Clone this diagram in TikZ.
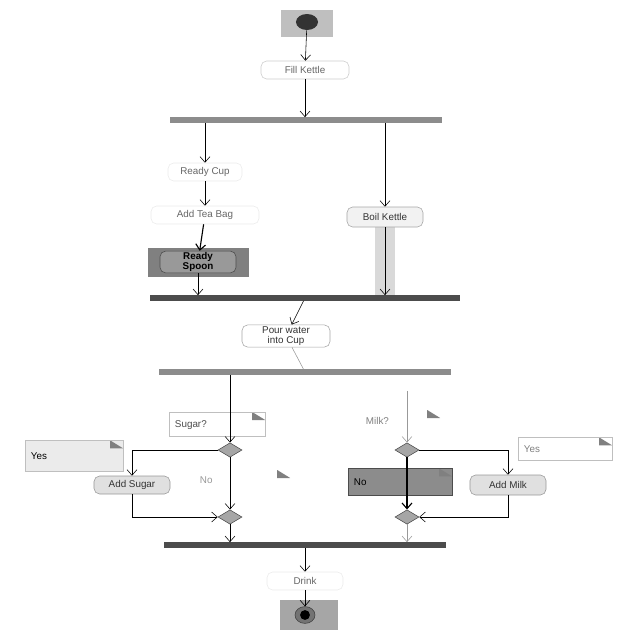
\documentclass[tikz,border=0pt]{standalone}
\usepackage{fontspec}
\setmainfont{Liberation Sans}
\usetikzlibrary{shapes.geometric,arrows.meta}
\begin{document}
\begin{tikzpicture}[x=0.025cm,y=-0.025cm,
  act/.style={draw=black!20,rounded corners=4pt,fill=white,minimum height=0.45cm,
    inner sep=1pt,align=center,text=black!60,font=\fontsize{7}{7.5}\selectfont},
  bar/.style={fill=black!45,minimum height=0.13cm,inner sep=0pt},
  choice/.style={diamond,draw=black!70,fill=black!35,minimum width=0.6cm,
    minimum height=0.36cm,inner sep=0pt},
  note/.style={draw=black!25,fill=white,inner sep=3pt,text=black!70,
    font=\fontsize{7}{7.5}\selectfont,text depth=0pt,
    path picture={\fill[black!50] ([xshift=-0.32cm]path picture bounding box.north east)
      -- ++(0,8) -- ++(13,0) -- cycle;}},
  >={Straight Barb[length=4pt,width=7pt]}]
  \useasboundingbox (0,0) rectangle (640,640);
  % shaded patches
  \fill[black!25] (281,10) rectangle (333,37);
  \fill[black!50] (148,248) rectangle (249,277);
  \fill[black!15] (375,227) rectangle (395,295);
  \fill[black!35] (280,600) rectangle (338,630);
  % notes
  \node[note,minimum width=2.4cm,minimum height=0.6cm,text width=2.1cm] (qs) at (217,424) {Sugar?};
  \node[note,minimum width=2.45cm,minimum height=0.78cm,text width=2.15cm,fill=black!8,text=black] (ys) at (74,456) {Yes};
  \node[note,minimum width=2.4cm,minimum height=0.5cm,text width=2.1cm,draw=none,text=black!40] (ns) at (242,480) {No};
  \node[note,minimum width=2cm,minimum height=0.55cm,text width=1.7cm,draw=none,text=black!50] (qm) at (400,421) {Milk?};
  \node[note,minimum width=2.35cm,minimum height=0.58cm,text width=2.05cm,text=black!50] (ym) at (565,449) {Yes};
  \node[note,minimum width=2.6cm,minimum height=0.68cm,text width=2.3cm,fill=black!45,draw=black!70,text=black] (nm) at (400,482) {No};
  % nodes
  \node[ellipse,fill=black!80,minimum width=0.55cm,minimum height=0.4cm,inner sep=0pt] (start) at (307,22) {};
  \node[act,minimum width=2.2cm] (fill) at (305,70) {Fill Kettle};
  \node[bar,minimum width=6.8cm] (fork1) at (306,120) {};
  \node[act,minimum width=1.85cm,draw=black!8] (cup) at (205,172) {Ready Cup};
  \node[act,minimum width=2.7cm,draw=black!8] (tea) at (205,215) {Add Tea Bag};
  \node[act,minimum width=1.9cm,minimum height=0.5cm,fill=black!40,draw=black!70,text=black,
    font=\fontsize{7}{7}\selectfont\bfseries] (spoon) at (198,262) {Ready\\Spoon};
  \node[act,minimum width=1.9cm,minimum height=0.5cm,fill=black!5,draw=black!35,text=black!80] (boil) at (385,217) {Boil Kettle};
  \node[bar,minimum width=7.75cm,fill=black!70] (join1) at (305,298) {};
  \node[act,minimum width=2.2cm,minimum height=0.53cm,draw=black!35,text=black!80] (pour) at (286,336) {Pour water\\into Cup};
  \node[bar,minimum width=7.3cm] (fork2) at (305,372) {};
  \node[choice] (d1) at (230,450) {};
  \node[act,minimum width=1.9cm,fill=black!12,draw=black!40,text=black!80] (sugar) at (132,485) {Add Sugar};
  \node[choice] (d2) at (230,517) {};
  \node[choice] (d3) at (407,450) {};
  \node[act,minimum width=1.9cm,minimum height=0.5cm,fill=black!12,draw=black!40,text=black!80] (milk) at (508,485) {Add Milk};
  \node[choice] (d4) at (407,517) {};
  \node[bar,minimum width=7.05cm,fill=black!70] (join2) at (305,545) {};
  \node[act,minimum width=1.9cm,draw=black!8] (drink) at (305,581) {Drink};
  \node[ellipse,fill=black!55,draw=black!75,minimum width=0.5cm,minimum height=0.42cm,inner sep=0pt] (stop) at (305,615) {};
  \fill[black] (stop) circle (3.5pt);
  % flows
  \draw[->] (start) -- (fill);
  \draw[->] (fill) -- (fill |- fork1.north);
  \draw[->] (fork1.south -| cup) -- (cup);
  \draw[->] (fork1.south -| boil) -- (boil);
  \draw[->] (cup) -- (tea);
  \draw[->,thick] (tea) -- (spoon);
  \draw[->] (spoon) -- (spoon |- join1.north);
  \draw[->] (boil) -- (boil |- join1.north);
  \draw[->] (join1) -- (pour);
  \draw[black!40] (pour) -- (fork2);
  \draw[->] (fork2.south -| d1) -- (d1);
  \draw[->] (d1.west) -| (sugar);
  \draw[->] (sugar) |- (d2.west);
  \draw[->] (d1) -- (d2);
  \draw[->] (d2) -- (d2 |- join2.north);
  \draw[->,black!40] ([yshift=-0.4cm]fork2.south -| d3) -- (d3);
  \draw[->] (d3.east) -| (milk);
  \draw[->] (milk) |- (d4.east);
  \draw[->,thick] (d3) -- (d4);
  \draw[->,black!40] (d4) -- (d4 |- join2.north);
  \draw[->] (join2.south -| drink) -- (drink);
  \draw[->] (drink) -- (stop);
\end{tikzpicture}
\end{document}
